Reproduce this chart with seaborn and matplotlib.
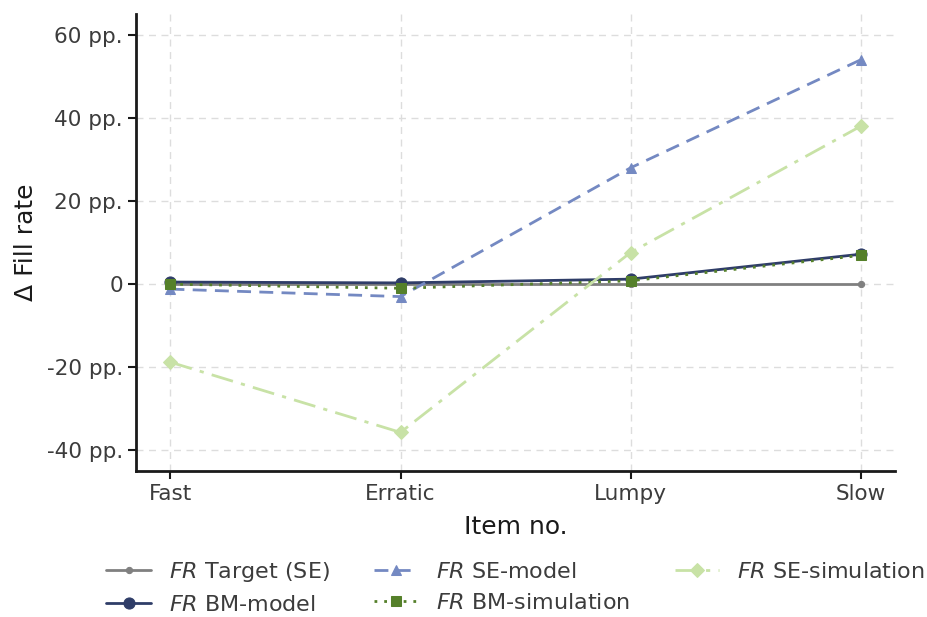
import matplotlib
matplotlib.use("Agg")
import matplotlib.pyplot as plt
import seaborn as sns
import pandas as pd

categories = ["Fast", "Erratic", "Lumpy", "Slow"]
target_se = [0.0, 0.0, 0.0, 0.0]
bm_model = [0.5, 0.3, 1.2, 7.2]
se_model = [-1.2, -3.0, 28.0, 54.0]
bm_sim = [0.0, -1.0, 0.8, 6.9]
se_sim = [-18.8, -35.7, 7.6, 38.0]
yticks = [-40, -20, 0, 20, 40, 60]
ytick_labels = ["-40 pp.", "-20 pp.", "0", "20 pp.", "40 pp.", "60 pp."]

sns.set_theme(style="ticks")
plt.rcParams["font.family"] = ["DejaVu Sans"]

fig = plt.figure(figsize=(9.27, 6.17), dpi=100)
ax = fig.add_axes([0.1467, 0.2366, 0.8188, 0.7404])

series = [
    (r"$\it{FR}$ Target (SE)", target_se, "#808080", "-", "o", 4.5),
    (r"$\it{FR}$ BM-model", bm_model, "#2f3d68", "-", "o", 8),
    (r"$\it{FR}$ SE-model", se_model, "#7489c2", (0, (5, 3)), "^", 7),
    (r"$\it{FR}$ BM-simulation", bm_sim, "#55802a", (0, (1, 2.5)), "s", 7),
    (r"$\it{FR}$ SE-simulation", se_sim, "#c8e2a6", (0, (8, 3, 1.5, 3)), "D", 7),
]

for label, vals, color, ls, marker, ms in series:
    df = pd.DataFrame({"cat": categories, "val": vals})
    sns.lineplot(data=df, x="cat", y="val", ax=ax, color=color, linestyle=ls,
                 marker=marker, markersize=ms, markeredgecolor=color,
                 linewidth=2, label=label, sort=False)

ax.set_xlim(-0.15, 3.15)
ax.set_ylim(-45, 65)
ax.set_yticks(yticks)
ax.set_yticklabels(ytick_labels)
ax.grid(True, linestyle=(0, (5, 4)), color="#dddddd", linewidth=1)
ax.set_axisbelow(True)
for s in ["top", "right"]:
    ax.spines[s].set_visible(False)
for s in ["left", "bottom"]:
    ax.spines[s].set_color("#1a1a1a")
    ax.spines[s].set_linewidth(2)
ax.tick_params(axis="both", labelsize=15.5, colors="#1a1a1a", labelcolor="#3c3c3c",
               length=6, width=1.5)
ax.set_xlabel("Item no.", fontsize=18, color="#1a1a1a", labelpad=8)
ax.set_ylabel("Δ Fill rate", fontsize=18, color="#1a1a1a", labelpad=6)

ax.legend(loc="upper center", bbox_to_anchor=(0.5, -0.175), ncol=3, frameon=False,
          fontsize=16, handlelength=2.0, columnspacing=2.0, labelspacing=0.5,
          borderaxespad=0, labelcolor="#3c3c3c")

fig.savefig("out.png", dpi=100)
